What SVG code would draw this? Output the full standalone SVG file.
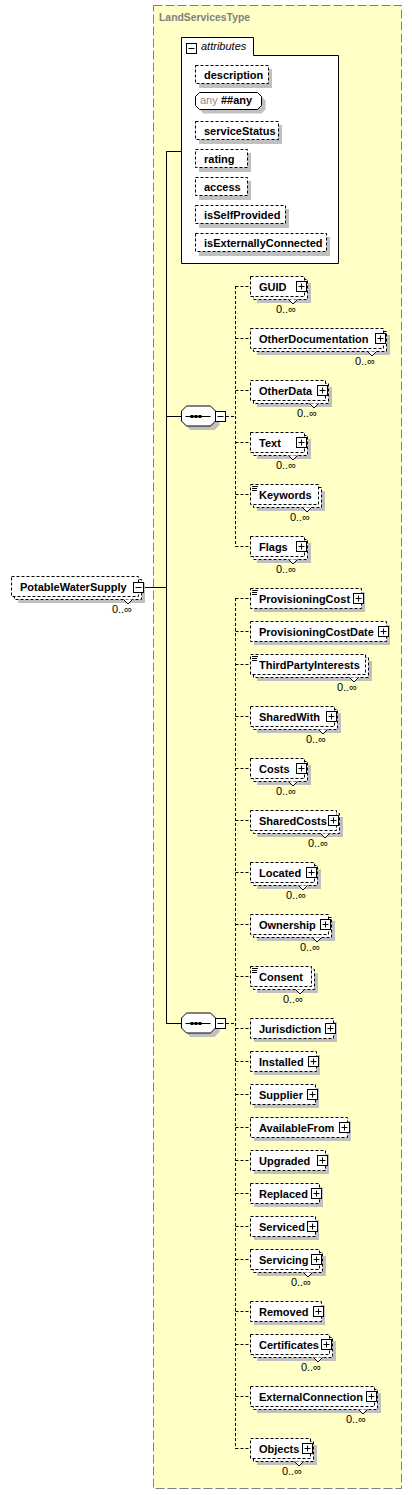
<svg xmlns="http://www.w3.org/2000/svg" width="412" height="1495" viewBox="0 0 412 1495">
<style>
.bx{fill:#fff;stroke:#000;stroke-width:1;stroke-dasharray:3,2}
.sh{fill:#c0c0c0}
.sb{fill:#fff;stroke:#000;stroke-width:1}
.vn{fill:#fff;stroke:#000;stroke-width:1}
.t{font-family:'Liberation Sans',Arial,sans-serif;font-size:11px;font-weight:bold;fill:#000}
.o{font-family:'Liberation Sans',Arial,sans-serif;font-size:11px;fill:#000;text-anchor:end}
.ln{stroke:#000;stroke-width:1;fill:none}
.dl{stroke:#000;stroke-width:1;fill:none;stroke-dasharray:3,2}
.mx{stroke:#000;stroke-width:1;fill:none}
</style>
<defs>
<g id="plus"><rect x="0.5" y="0.5" width="10" height="10" fill="#fff" stroke="#000"/><path d="M2.5 5.5H8.5M5.5 2.5V8.5" stroke="#000" fill="none"/></g>
<g id="minus"><rect x="0.5" y="0.5" width="10" height="10" fill="#fff" stroke="#000"/><path d="M2.5 5.5H8.5" stroke="#000" fill="none"/></g>
<g id="seq">
<path d="M10 5 H34 L39 10 V20 L34 25 H10 L5 20 V10 Z" fill="#c0c0c0"/>
<path d="M6 1 H30 L35 6 V16 L30 21 H6 L1 16 V6 Z" fill="#fff" stroke="#000"/>
<path d="M5 11.5 H30" stroke="#000"/>
<rect x="10" y="10" width="3" height="3" fill="#000"/>
<rect x="14" y="10" width="3" height="3" fill="#000"/>
<rect x="18" y="10" width="3" height="3" fill="#000"/>
</g>
</defs>

<g id="LandServicesType">
<rect x="153.5" y="5.5" width="248" height="1483" fill="#ffffc6" stroke="#808080" stroke-dasharray="9,3"/>
<text x="159" y="21" font-family="'Liberation Sans',Arial,sans-serif" font-size="10.4px" font-weight="bold" fill="#808080">LandServicesType</text>
</g>

<g id="connectors">
<path class="ln" d="M143 587.5 H166.5 M166.5 151 V1024 M166 151.5 H181.5 M166 416.5 H181.5 M166 1023.5 H181.5"/>
<path class="dl" d="M226 416.5 H235.5 M235.5 286 V547 M235.5 286.5 H250 M235.5 338.5 H250 M235.5 390.5 H250 M235.5 442.5 H250 M235.5 494.5 H250 M235.5 546.5 H250"/>
<path class="dl" d="M226 1023.5 H235.5 M235.5 598 V1449 M235.5 598.5 H250 M235.5 631.5 H250 M235.5 664.5 H250 M235.5 716.5 H250 M235.5 768.5 H250 M235.5 820.5 H250 M235.5 872.5 H250 M235.5 924.5 H250 M235.5 976.5 H250 M235.5 1028.5 H250 M235.5 1061.5 H250 M235.5 1094.5 H250 M235.5 1127.5 H250 M235.5 1160.5 H250 M235.5 1193.5 H250 M235.5 1226.5 H250 M235.5 1259.5 H250 M235.5 1311.5 H250 M235.5 1344.5 H250 M235.5 1396.5 H250 M235.5 1448.5 H250"/>
</g>

<g id="PotableWaterSupply">
<rect class="sh" x="18" y="583" width="127" height="20"/>
<rect class="bx" x="14.5" y="579.5" width="127" height="20"/>
<rect class="bx" x="11.5" y="576.5" width="127" height="20"/>
<polyline class="vn" points="123.5,599.5 128,604 132.5,599.5"/>
<text class="t" x="20" y="591">PotableWaterSupply</text>
<use href="#minus" x="133" y="582"/>
<text class="o" x="132" y="613">0..∞</text>
</g>

<g id="attributes">
<path d="M181.5 263.5 V37.5 H253.5 V55.5 H338.5 V263.5 Z" fill="#fff" stroke="#000"/>
<use href="#minus" x="186" y="43"/>
<text x="201" y="50" font-family="'Liberation Sans',Arial,sans-serif" font-size="11px" font-style="italic" fill="#000">attributes</text>
</g>
<g id="attr-description">
<rect class="sh" x="199" y="69" width="73" height="19"/>
<rect class="bx" x="195.5" y="65.5" width="73" height="18"/>
<text class="t" x="204" y="79">description</text>
</g>
<g id="attr-any">
<path d="M203.5 96.5 H261.5 L265.5 100.5 V109.5 L261.5 113.5 H203.5 L199.5 109.5 V100.5 Z" fill="#c0c0c0"/>
<path d="M199.5 92.5 H257.5 L261.5 96.5 V105.5 L257.5 109.5 H199.5 L195.5 105.5 V96.5 Z" fill="#fff" stroke="#000"/>
<text x="200" y="104" font-family="'Liberation Sans',Arial,sans-serif" font-size="11px" fill="#8c8c8c">any</text>
<text class="t" x="221" y="104">##any</text>
</g>
<g id="attr-serviceStatus">
<rect class="sh" x="199" y="125" width="83" height="19"/>
<rect class="bx" x="195.5" y="121.5" width="83" height="18"/>
<text class="t" x="204" y="135">serviceStatus</text>
</g>
<g id="attr-rating">
<rect class="sh" x="199" y="153" width="52" height="19"/>
<rect class="bx" x="195.5" y="149.5" width="52" height="18"/>
<text class="t" x="204" y="163">rating</text>
</g>
<g id="attr-access">
<rect class="sh" x="199" y="181" width="52" height="19"/>
<rect class="bx" x="195.5" y="177.5" width="52" height="18"/>
<text class="t" x="204" y="191">access</text>
</g>
<g id="attr-isSelfProvided">
<rect class="sh" x="199" y="209" width="90" height="19"/>
<rect class="bx" x="195.5" y="205.5" width="90" height="18"/>
<text class="t" x="204" y="219">isSelfProvided</text>
</g>
<g id="attr-isExternallyConnected">
<rect class="sh" x="199" y="237" width="131" height="19"/>
<rect class="bx" x="195.5" y="233.5" width="131" height="18"/>
<text class="t" x="204" y="247">isExternallyConnected</text>
</g>

<g id="sequence1">
<use href="#seq" x="180.5" y="405"/>
<use href="#minus" x="215" y="411"/>
</g>
<g id="sequence2">
<use href="#seq" x="180.5" y="1012"/>
<use href="#minus" x="215" y="1018"/>
</g>

<g id="GUID">
<rect class="sh" x="257" y="283" width="54" height="20"/>
<rect class="bx" x="253.5" y="279.5" width="54" height="20"/>
<rect class="bx" x="250.5" y="276.5" width="54" height="20"/>
<polyline class="vn" points="288.5,299.5 293,304 297.5,299.5"/>
<text class="t" x="259" y="291">GUID</text>
<use href="#plus" x="296" y="281"/>
<text class="o" x="296" y="313">0..∞</text>
</g>
<g id="OtherDocumentation">
<rect class="sh" x="257" y="335" width="133" height="20"/>
<rect class="bx" x="253.5" y="331.5" width="133" height="20"/>
<rect class="bx" x="250.5" y="328.5" width="133" height="20"/>
<polyline class="vn" points="367.5,351.5 372,356 376.5,351.5"/>
<text class="t" x="259" y="343">OtherDocumentation</text>
<use href="#plus" x="375" y="333"/>
<text class="o" x="375" y="365">0..∞</text>
</g>
<g id="OtherData">
<rect class="sh" x="257" y="387" width="75" height="20"/>
<rect class="bx" x="253.5" y="383.5" width="75" height="20"/>
<rect class="bx" x="250.5" y="380.5" width="75" height="20"/>
<polyline class="vn" points="309.5,403.5 314,408 318.5,403.5"/>
<text class="t" x="259" y="395">OtherData</text>
<use href="#plus" x="317" y="385"/>
<text class="o" x="317" y="417">0..∞</text>
</g>
<g id="Text">
<rect class="sh" x="257" y="439" width="54" height="20"/>
<rect class="bx" x="253.5" y="435.5" width="54" height="20"/>
<rect class="bx" x="250.5" y="432.5" width="54" height="20"/>
<polyline class="vn" points="288.5,455.5 293,460 297.5,455.5"/>
<text class="t" x="259" y="447">Text</text>
<use href="#plus" x="296" y="437"/>
<text class="o" x="296" y="469">0..∞</text>
</g>
<g id="Keywords">
<rect class="sh" x="257" y="491" width="68" height="20"/>
<rect class="bx" x="253.5" y="487.5" width="68" height="20"/>
<rect class="bx" x="250.5" y="484.5" width="68" height="20"/>
<polyline class="vn" points="302.5,507.5 307,512 311.5,507.5"/>
<path class="mx" d="M252 486.5H258M252 488.5H257M252 490.5H257"/>
<text class="t" x="259" y="499">Keywords</text>
<text class="o" x="310" y="521">0..∞</text>
</g>
<g id="Flags">
<rect class="sh" x="257" y="543" width="54" height="20"/>
<rect class="bx" x="253.5" y="539.5" width="54" height="20"/>
<rect class="bx" x="250.5" y="536.5" width="54" height="20"/>
<polyline class="vn" points="288.5,559.5 293,564 297.5,559.5"/>
<text class="t" x="259" y="551">Flags</text>
<use href="#plus" x="296" y="541"/>
<text class="o" x="296" y="573">0..∞</text>
</g>

<g id="ProvisioningCost">
<rect class="sh" x="254" y="592" width="111" height="20"/>
<rect class="bx" x="250.5" y="588.5" width="111" height="20"/>
<path class="mx" d="M252 590.5H258M252 592.5H257M252 594.5H257"/>
<text class="t" x="259" y="603">ProvisioningCost</text>
<use href="#plus" x="353" y="593"/>
</g>
<g id="ProvisioningCostDate">
<rect class="sh" x="254" y="625" width="136" height="20"/>
<rect class="bx" x="250.5" y="621.5" width="136" height="20"/>
<text class="t" x="259" y="636">ProvisioningCostDate</text>
<use href="#plus" x="378" y="626"/>
</g>
<g id="ThirdPartyInterests">
<rect class="sh" x="257" y="661" width="115" height="20"/>
<rect class="bx" x="253.5" y="657.5" width="115" height="20"/>
<rect class="bx" x="250.5" y="654.5" width="115" height="20"/>
<polyline class="vn" points="349.5,677.5 354,682 358.5,677.5"/>
<path class="mx" d="M252 656.5H258M252 658.5H257M252 660.5H257"/>
<text class="t" x="259" y="669">ThirdPartyInterests</text>
<text class="o" x="357" y="691">0..∞</text>
</g>
<g id="SharedWith">
<rect class="sh" x="257" y="713" width="84" height="20"/>
<rect class="bx" x="253.5" y="709.5" width="84" height="20"/>
<rect class="bx" x="250.5" y="706.5" width="84" height="20"/>
<polyline class="vn" points="318.5,729.5 323,734 327.5,729.5"/>
<text class="t" x="259" y="721">SharedWith</text>
<use href="#plus" x="326" y="711"/>
<text class="o" x="326" y="743">0..∞</text>
</g>
<g id="Costs">
<rect class="sh" x="257" y="765" width="54" height="20"/>
<rect class="bx" x="253.5" y="761.5" width="54" height="20"/>
<rect class="bx" x="250.5" y="758.5" width="54" height="20"/>
<polyline class="vn" points="288.5,781.5 293,786 297.5,781.5"/>
<text class="t" x="259" y="773">Costs</text>
<use href="#plus" x="296" y="763"/>
<text class="o" x="296" y="795">0..∞</text>
</g>
<g id="SharedCosts">
<rect class="sh" x="257" y="817" width="86" height="20"/>
<rect class="bx" x="253.5" y="813.5" width="86" height="20"/>
<rect class="bx" x="250.5" y="810.5" width="86" height="20"/>
<polyline class="vn" points="320.5,833.5 325,838 329.5,833.5"/>
<text class="t" x="259" y="825">SharedCosts</text>
<use href="#plus" x="328" y="815"/>
<text class="o" x="328" y="847">0..∞</text>
</g>
<g id="Located">
<rect class="sh" x="257" y="869" width="64" height="20"/>
<rect class="bx" x="253.5" y="865.5" width="64" height="20"/>
<rect class="bx" x="250.5" y="862.5" width="64" height="20"/>
<polyline class="vn" points="298.5,885.5 303,890 307.5,885.5"/>
<text class="t" x="259" y="877">Located</text>
<use href="#plus" x="306" y="867"/>
<text class="o" x="306" y="899">0..∞</text>
</g>
<g id="Ownership">
<rect class="sh" x="257" y="921" width="78" height="20"/>
<rect class="bx" x="253.5" y="917.5" width="78" height="20"/>
<rect class="bx" x="250.5" y="914.5" width="78" height="20"/>
<polyline class="vn" points="312.5,937.5 317,942 321.5,937.5"/>
<text class="t" x="259" y="929">Ownership</text>
<use href="#plus" x="320" y="919"/>
<text class="o" x="320" y="951">0..∞</text>
</g>
<g id="Consent">
<rect class="sh" x="257" y="973" width="61" height="20"/>
<rect class="bx" x="253.5" y="969.5" width="61" height="20"/>
<rect class="bx" x="250.5" y="966.5" width="61" height="20"/>
<polyline class="vn" points="295.5,989.5 300,994 304.5,989.5"/>
<path class="mx" d="M252 968.5H258M252 970.5H257M252 972.5H257"/>
<text class="t" x="259" y="981">Consent</text>
<text class="o" x="303" y="1003">0..∞</text>
</g>
<g id="Jurisdiction">
<rect class="sh" x="254" y="1022" width="83" height="20"/>
<rect class="bx" x="250.5" y="1018.5" width="83" height="20"/>
<text class="t" x="259" y="1033">Jurisdiction</text>
<use href="#plus" x="325" y="1023"/>
</g>
<g id="Installed">
<rect class="sh" x="254" y="1055" width="66" height="20"/>
<rect class="bx" x="250.5" y="1051.5" width="66" height="20"/>
<text class="t" x="259" y="1066">Installed</text>
<use href="#plus" x="308" y="1056"/>
</g>
<g id="Supplier">
<rect class="sh" x="254" y="1088" width="65" height="20"/>
<rect class="bx" x="250.5" y="1084.5" width="65" height="20"/>
<text class="t" x="259" y="1099">Supplier</text>
<use href="#plus" x="307" y="1089"/>
</g>
<g id="AvailableFrom">
<rect class="sh" x="254" y="1121" width="97" height="20"/>
<rect class="bx" x="250.5" y="1117.5" width="97" height="20"/>
<text class="t" x="259" y="1132">AvailableFrom</text>
<use href="#plus" x="339" y="1122"/>
</g>
<g id="Upgraded">
<rect class="sh" x="254" y="1154" width="75" height="20"/>
<rect class="bx" x="250.5" y="1150.5" width="75" height="20"/>
<text class="t" x="259" y="1165">Upgraded</text>
<use href="#plus" x="317" y="1155"/>
</g>
<g id="Replaced">
<rect class="sh" x="254" y="1187" width="69" height="20"/>
<rect class="bx" x="250.5" y="1183.5" width="69" height="20"/>
<text class="t" x="259" y="1198">Replaced</text>
<use href="#plus" x="311" y="1188"/>
</g>
<g id="Serviced">
<rect class="sh" x="254" y="1220" width="65" height="20"/>
<rect class="bx" x="250.5" y="1216.5" width="65" height="20"/>
<text class="t" x="259" y="1231">Serviced</text>
<use href="#plus" x="307" y="1221"/>
</g>
<g id="Servicing">
<rect class="sh" x="257" y="1256" width="69" height="20"/>
<rect class="bx" x="253.5" y="1252.5" width="69" height="20"/>
<rect class="bx" x="250.5" y="1249.5" width="69" height="20"/>
<polyline class="vn" points="303.5,1272.5 308,1277 312.5,1272.5"/>
<text class="t" x="259" y="1264">Servicing</text>
<use href="#plus" x="311" y="1254"/>
<text class="o" x="311" y="1286">0..∞</text>
</g>
<g id="Removed">
<rect class="sh" x="254" y="1305" width="71" height="20"/>
<rect class="bx" x="250.5" y="1301.5" width="71" height="20"/>
<text class="t" x="259" y="1316">Removed</text>
<use href="#plus" x="313" y="1306"/>
</g>
<g id="Certificates">
<rect class="sh" x="257" y="1341" width="79" height="20"/>
<rect class="bx" x="253.5" y="1337.5" width="79" height="20"/>
<rect class="bx" x="250.5" y="1334.5" width="79" height="20"/>
<polyline class="vn" points="313.5,1357.5 318,1362 322.5,1357.5"/>
<text class="t" x="259" y="1349">Certificates</text>
<use href="#plus" x="321" y="1339"/>
<text class="o" x="321" y="1371">0..∞</text>
</g>
<g id="ExternalConnection">
<rect class="sh" x="257" y="1393" width="124" height="20"/>
<rect class="bx" x="253.5" y="1389.5" width="124" height="20"/>
<rect class="bx" x="250.5" y="1386.5" width="124" height="20"/>
<polyline class="vn" points="358.5,1409.5 363,1414 367.5,1409.5"/>
<text class="t" x="259" y="1401">ExternalConnection</text>
<use href="#plus" x="366" y="1391"/>
<text class="o" x="366" y="1423">0..∞</text>
</g>
<g id="Objects">
<rect class="sh" x="257" y="1445" width="60" height="20"/>
<rect class="bx" x="253.5" y="1441.5" width="60" height="20"/>
<rect class="bx" x="250.5" y="1438.5" width="60" height="20"/>
<polyline class="vn" points="294.5,1461.5 299,1466 303.5,1461.5"/>
<text class="t" x="259" y="1453">Objects</text>
<use href="#plus" x="302" y="1443"/>
<text class="o" x="302" y="1475">0..∞</text>
</g>
</svg>
